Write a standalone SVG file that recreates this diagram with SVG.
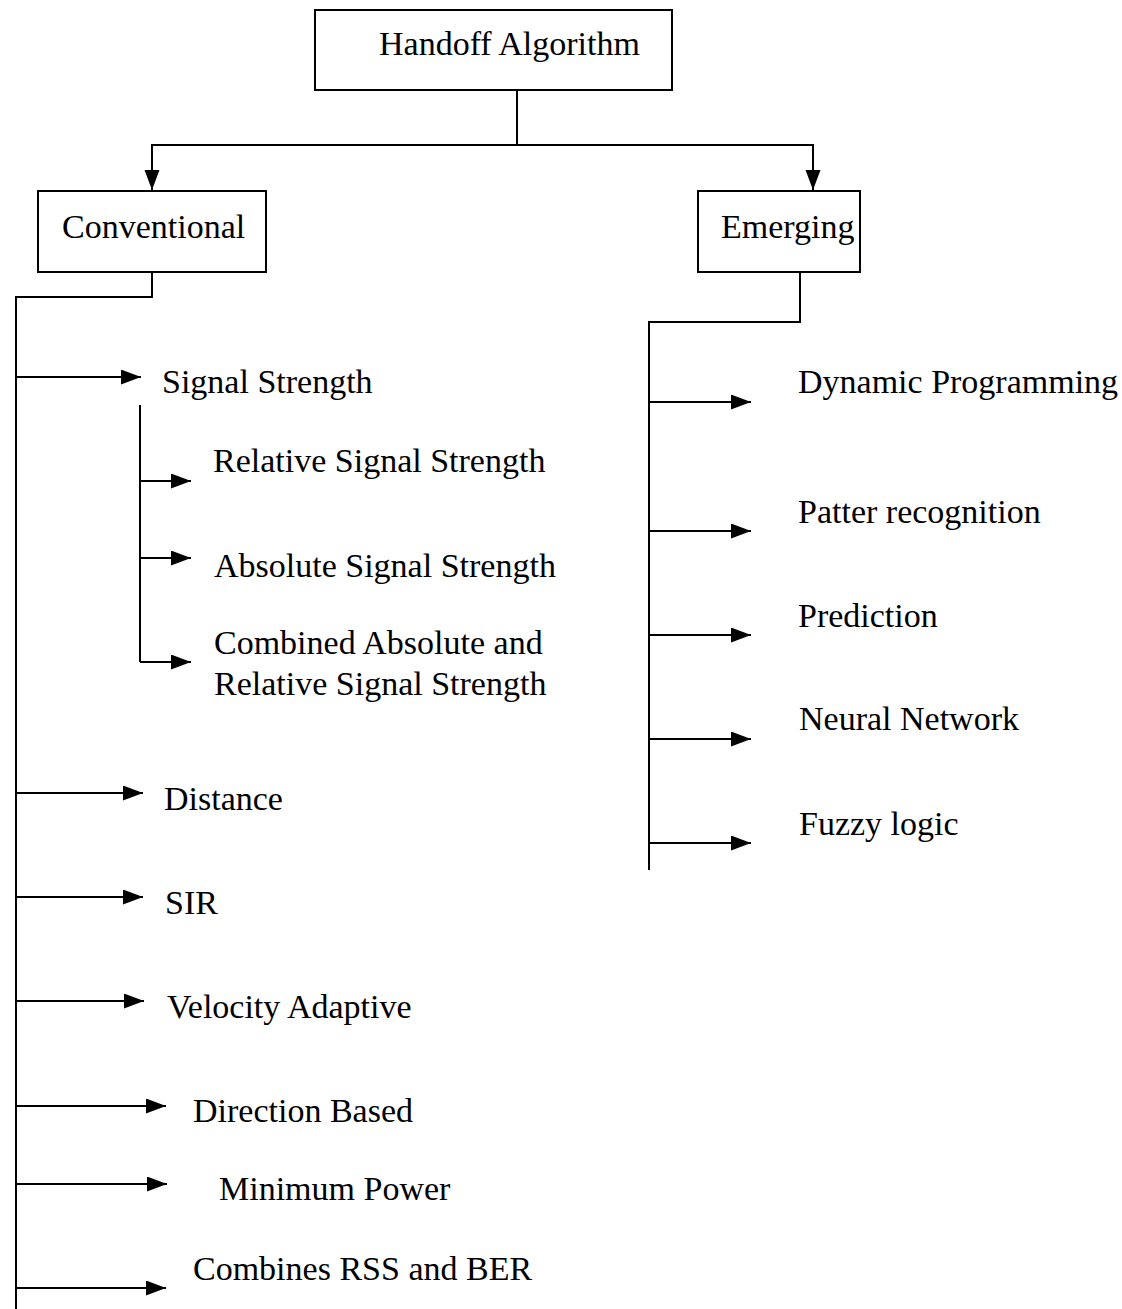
<svg xmlns="http://www.w3.org/2000/svg" width="1122" height="1309" viewBox="0 0 1122 1309">
  <style>
    .box { fill: #ffffff; stroke: #000000; stroke-width: 2; }
    .wire { fill: none; stroke: #000000; stroke-width: 2; }
    .arr { fill: none; stroke: #000000; stroke-width: 2; marker-end: url(#head); }
    text { font-family: "Liberation Serif", "Times New Roman", serif; font-size: 34px; fill: #000000; }
  </style>
  <defs>
    <marker id="head" markerUnits="userSpaceOnUse" markerWidth="22" markerHeight="16" refX="20" refY="7.5" orient="auto">
      <path d="M0,0 L20,7.5 L0,15 z" fill="#000000"/>
    </marker>
  </defs>
  <rect width="1122" height="1309" fill="#ffffff"/>

  <!-- connectors -->
  <g id="connectors">
    <!-- root to the two families -->
    <path class="wire" d="M517,90 V145 M151,145 H814"/>
    <path class="arr" d="M152,145 V190"/>
    <path class="arr" d="M813,145 V190"/>

    <!-- conventional trunk -->
    <path class="wire" d="M152,272 V297 H16 V1309"/>
    <path class="arr" d="M16,377 H141"/>
    <path class="wire" d="M140,405 V662"/>
    <path class="arr" d="M140,481 H191"/>
    <path class="arr" d="M140,558 H191"/>
    <path class="arr" d="M140,662 H191"/>
    <path class="arr" d="M16,793 H143"/>
    <path class="arr" d="M16,897 H143"/>
    <path class="arr" d="M16,1001 H144"/>
    <path class="arr" d="M16,1106 H166"/>
    <path class="arr" d="M16,1184 H167"/>
    <path class="arr" d="M16,1288 H166"/>

    <!-- emerging trunk -->
    <path class="wire" d="M800,272 V322 H649 V870"/>
    <path class="arr" d="M649,402 H751"/>
    <path class="arr" d="M649,531 H751"/>
    <path class="arr" d="M649,635 H751"/>
    <path class="arr" d="M649,739 H751"/>
    <path class="arr" d="M649,843 H751"/>
  </g>

  <!-- boxed nodes -->
  <g id="handoff-algorithm">
    <rect class="box" x="315" y="10" width="357" height="80"/>
    <text x="379" y="55">Handoff Algorithm</text>
  </g>
  <g id="conventional">
    <rect class="box" x="38" y="191" width="228" height="81"/>
    <text x="62" y="238">Conventional</text>
  </g>
  <g id="emerging">
    <rect class="box" x="698" y="191" width="162" height="81"/>
    <text x="721" y="238">Emerging</text>
  </g>

  <!-- conventional leaves -->
  <g id="signal-strength"><text x="162" y="393">Signal Strength</text></g>
  <g id="relative-signal-strength"><text x="213" y="472">Relative Signal Strength</text></g>
  <g id="absolute-signal-strength"><text x="214" y="577">Absolute Signal Strength</text></g>
  <g id="combined-signal-strength">
    <text x="214" y="654">Combined Absolute and</text>
    <text x="214" y="695">Relative Signal Strength</text>
  </g>
  <g id="distance"><text x="164" y="810">Distance</text></g>
  <g id="sir"><text x="165" y="914">SIR</text></g>
  <g id="velocity-adaptive"><text x="167" y="1018">Velocity Adaptive</text></g>
  <g id="direction-based"><text x="193" y="1122">Direction Based</text></g>
  <g id="minimum-power"><text x="219" y="1200">Minimum Power</text></g>
  <g id="combines-rss-ber"><text x="193" y="1280">Combines RSS and BER</text></g>

  <!-- emerging leaves -->
  <g id="dynamic-programming"><text x="798" y="393">Dynamic Programming</text></g>
  <g id="pattern-recognition"><text x="798" y="523">Patter recognition</text></g>
  <g id="prediction"><text x="798" y="627">Prediction</text></g>
  <g id="neural-network"><text x="799" y="730">Neural Network</text></g>
  <g id="fuzzy-logic"><text x="799" y="835">Fuzzy logic</text></g>
</svg>
